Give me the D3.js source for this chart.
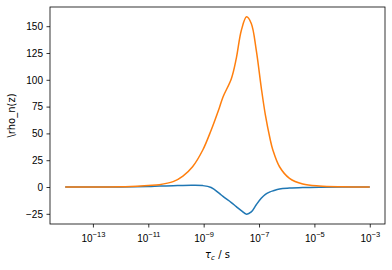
<!DOCTYPE html>
<html>
<head>
<meta charset="utf-8">
<script src="https://cdn.jsdelivr.net/npm/d3@7"></script>
<style>
  body { margin: 0; background: #fff; }
  svg { font-family: "DejaVu Sans", sans-serif; }
</style>
</head>
<body>
<div id="grafico"></div>
<script>
// tiempos de correlacion (s) y las dos curvas
const tau = [1e-14, 1e-12, 1e-11, 2.5e-11, 7.9e-11, 1.78e-10, 3.98e-10, 9.3e-10,
  1.86e-9, 3.7e-9, 5e-9, 1e-8, 1.51e-8, 2.29e-8, 3.55e-8, 5.25e-8, 7.94e-8,
  1.2e-7, 1.7e-7, 2.5e-7, 3.16e-7, 5.5e-7, 1.26e-6, 3.8e-6, 1.5e-5, 1e-4, 1e-3];
const rhoNaranja = [0, 0.2, 1.5, 2.2, 5, 10.2, 18.9, 34.5, 53, 74, 84, 101, 120,
  146, 158.7, 152.5, 127.6, 93, 67, 45, 34.5, 18.9, 8.1, 2.8, 0.9, 0.2, 0];
const rhoAzul = [0, 0.1, 0.5, 0.9, 1.2, 1.5, 1.6, 1.3, -0.5, -6, -8.8, -14.5, -18.3,
  -22, -25.3, -23.2, -16.5, -10.5, -6.8, -4.5, -3.6, -1.8, -1.0, -0.5, -0.2, -0.05, 0];
const ticksX = [1e-13, 1e-11, 1e-9, 1e-7, 1e-5, 1e-3];
const ticksY = [-25, 0, 25, 50, 75, 100, 125, 150];

function crearGrafico() {
    const ancho = 392, alto = 270;
    const m = {izq: 50, der: 7, arr: 7, aba: 46};
    const svg = d3.select("#grafico").append("svg")
        .attr("width", ancho)
        .attr("height", alto);

    const x = d3.scaleLog().domain([10 ** -14.55, 10 ** -2.45]).range([m.izq, ancho - m.der]);
    const y = d3.scaleLinear().domain([-34.5, 167.9]).range([alto - m.aba, m.arr]);

    const ejeX = svg.append("g")
        .attr("transform", `translate(0,${alto - m.aba})`)
        .call(d3.axisBottom(x).tickValues(ticksX).tickSize(3.5).tickFormat(""));
    ejeX.selectAll(".tick text").remove();
    ejeX.selectAll(".tick").append("text")
        .attr("y", 18)
        .attr("fill", "#000")
        .attr("font-size", 10)
        .attr("text-anchor", "middle")
        .each(function(d) {
            const exp = Math.round(Math.log10(d));
            const t = d3.select(this);
            t.append("tspan").text("10");
            t.append("tspan").attr("dy", -5).attr("font-size", 7.5)
                .text("\u2212" + Math.abs(exp));
        });

    const ejeY = svg.append("g")
        .attr("transform", `translate(${m.izq},0)`)
        .call(d3.axisLeft(y).tickValues(ticksY).tickSize(3.5).tickPadding(3.5)
            .tickFormat(d => d < 0 ? "\u2212" + Math.abs(d) : d));
    ejeY.selectAll(".tick text").attr("font-size", 10).attr("fill", "#000");

    svg.selectAll(".domain").remove();
    svg.selectAll(".tick line").attr("stroke", "#000").attr("stroke-width", 0.8);

    const linea = serie => d3.line()
        .x((d, i) => x(tau[i]))
        .y(d => y(d))
        .curve(d3.curveCatmullRom.alpha(0.5))(serie);

    svg.append("path").attr("d", linea(rhoAzul))
        .attr("fill", "none").attr("stroke", "#1f77b4").attr("stroke-width", 1.5);
    svg.append("path").attr("d", linea(rhoNaranja))
        .attr("fill", "none").attr("stroke", "#ff7f0e").attr("stroke-width", 1.5);

    svg.append("rect")
        .attr("x", m.izq).attr("y", m.arr)
        .attr("width", ancho - m.der - m.izq).attr("height", alto - m.aba - m.arr)
        .attr("fill", "none").attr("stroke", "#000").attr("stroke-width", 0.8);

    const etX = svg.append("text")
        .attr("x", (m.izq + ancho - m.der) / 2).attr("y", 258)
        .attr("text-anchor", "middle").attr("font-size", 10);
    etX.append("tspan").attr("font-style", "italic").text("\u03c4");
    etX.append("tspan").attr("font-style", "italic").attr("font-size", 7).attr("dy", 2).text("c");
    etX.append("tspan").attr("dy", -2).text(" / s");

    svg.append("text")
        .attr("transform", `translate(15,${(m.arr + alto - m.aba) / 2}) rotate(-90)`)
        .attr("text-anchor", "middle").attr("font-size", 10)
        .text("\\rho_n(z)");
}
crearGrafico();
</script>
</body>
</html>
